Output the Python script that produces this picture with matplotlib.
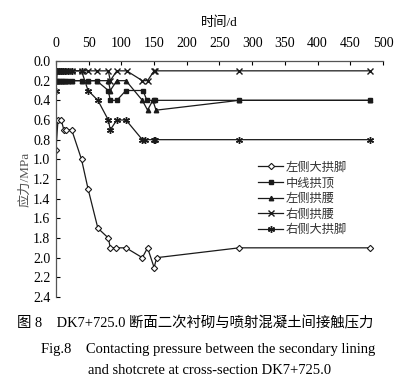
"""Contact pressure between secondary lining and shotcrete, DK7+725.0."""

import matplotlib
matplotlib.use("Agg")
import matplotlib.pyplot as plt

plt.rcParams["font.family"] = ["Liberation Serif", "Noto Sans CJK SC"]
plt.rcParams["mathtext.fontset"] = "stix"

# data (day, MPa)
left_foot_days = [0, 3, 8, 12, 16, 24, 39, 49, 64, 80, 83, 92, 107, 132, 140, 150, 154, 280, 480]
left_foot_vals = [0.9, 0.6, 0.6, 0.7, 0.7, 0.7, 1.0, 1.3, 1.7, 1.8, 1.9, 1.9, 1.9, 2.0, 1.9, 2.1, 2.0, 1.9, 1.9]

crown_days = [0, 2, 4, 7, 10, 14, 18, 24, 39, 49, 62, 80, 83, 93, 107, 133, 139, 150, 152, 280, 480]
crown_vals = [0.2, 0.2, 0.2, 0.2, 0.2, 0.2, 0.2, 0.2, 0.2, 0.2, 0.2, 0.3, 0.4, 0.4, 0.3, 0.3, 0.4, 0.4, 0.4, 0.4, 0.4]

left_waist_days = [0, 2, 4, 7, 10, 14, 18, 24, 39, 49, 62, 80, 83, 93, 107, 132, 140, 148, 153, 280, 480]
left_waist_vals = [0.2, 0.2, 0.2, 0.2, 0.2, 0.2, 0.2, 0.2, 0.2, 0.2, 0.2, 0.2, 0.3, 0.2, 0.2, 0.4, 0.5, 0.4, 0.5, 0.4, 0.4]

right_waist_days = [0, 2, 4, 7, 10, 14, 18, 24, 39, 49, 62, 80, 83, 93, 108, 132, 140, 150, 152, 280, 480]
right_waist_vals = [0.1, 0.1, 0.1, 0.1, 0.1, 0.1, 0.1, 0.1, 0.1, 0.1, 0.1, 0.1, 0.2, 0.1, 0.1, 0.2, 0.2, 0.1, 0.1, 0.1, 0.1]

right_foot_days = [0, 2, 4, 7, 10, 14, 18, 24, 39, 49, 64, 80, 83, 93, 107, 132, 136, 150, 152, 280, 480]
right_foot_vals = [0.3, 0.1, 0.1, 0.1, 0.1, 0.1, 0.1, 0.1, 0.1, 0.3, 0.4, 0.6, 0.7, 0.6, 0.6, 0.8, 0.8, 0.8, 0.8, 0.8, 0.8]

x_ticks = [0, 50, 100, 150, 200, 250, 300, 350, 400, 450, 500]
y_ticks = [0.0, 0.2, 0.4, 0.6, 0.8, 1.0, 1.2, 1.4, 1.6, 1.8, 2.0, 2.2, 2.4]

W, H = 410, 388
fig = plt.figure(figsize=(W / 100, H / 100), dpi=100)
ax = fig.add_axes([56 / W, 1 - 297 / H, (383 - 56) / W, (297 - 61) / H])

lc = "#1a1a1a"
ax.plot(left_foot_days, left_foot_vals, color=lc, lw=0.9, marker="D", ms=3.2,
        mfc="white", mec=lc, mew=0.8, label="左侧大拱脚")
ax.plot(crown_days, crown_vals, color=lc, lw=0.9, marker="s", ms=3.0,
        mfc=lc, mec=lc, label="中线拱顶")
ax.plot(left_waist_days, left_waist_vals, color=lc, lw=0.9, marker="^", ms=3.2,
        mfc=lc, mec=lc, label="左侧拱腰")
ax.plot(right_waist_days, right_waist_vals, color=lc, lw=0.9, marker="x", ms=4.2,
        mec=lc, mew=1.0, label="右侧拱腰")
ax.plot(right_foot_days, right_foot_vals, color=lc, lw=0.9, marker=(6, 2, 0), ms=5,
        mec=lc, mew=1.0, label="右侧大拱脚")

ax.set_xlim(0, 500)
ax.set_ylim(2.4, 0.0)
ax.xaxis.tick_top()
ax.xaxis.set_label_position("top")
ax.set_xticks(x_ticks)
ax.set_yticks(y_ticks)
ax.set_yticklabels([f"{v:.1f}" for v in y_ticks])
ax.tick_params(axis="both", direction="in", length=3, width=0.8, labelsize=10)
ax.tick_params(axis="x", pad=8)
ax.tick_params(axis="y", pad=4)
ax.spines["right"].set_visible(False)
ax.spines["bottom"].set_visible(False)
for s in ("top", "left"):
    ax.spines[s].set_linewidth(0.9)
    ax.spines[s].set_color("#555555")

ax.set_xlabel("时间/d", fontsize=9.5, labelpad=8)
ax.set_ylabel("应力/MPa", fontsize=9.5, color="#555555", labelpad=1)

leg = ax.legend(loc="upper left", bbox_to_anchor=(0.6, 0.6), frameon=False,
                fontsize=8.8, handlelength=2.0, handletextpad=0.25,
                labelspacing=0.3, borderpad=0)
for t in leg.get_texts():
    t.set_color("#333333")

fig.text(195 / W, 1 - 323 / H, "图 8    DK7+725.0 断面二次衬砌与喷射混凝土间接触压力",
         ha="center", va="center", fontsize=10.4)
fig.text(208 / W, 1 - 350 / H, "Fig.8    Contacting pressure between the secondary lining",
         ha="center", va="center", fontsize=10.5)
fig.text(210 / W, 1 - 371 / H, "and shotcrete at cross-section DK7+725.0",
         ha="center", va="center", fontsize=10.5)

fig.savefig("out.png", dpi=100)
